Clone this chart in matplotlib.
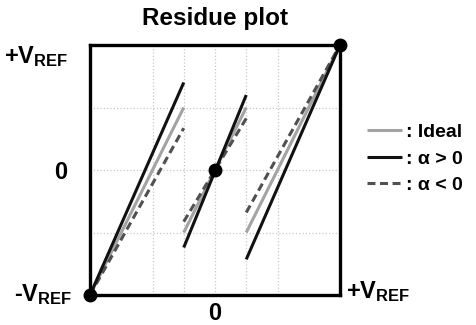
import matplotlib
matplotlib.use('Agg')
import matplotlib.pyplot as plt
from matplotlib.lines import Line2D

plt.rcParams['font.family'] = ['Liberation Sans', 'DejaVu Sans']
plt.rcParams['mathtext.fontset'] = 'custom'
plt.rcParams['mathtext.bf'] = 'Liberation Sans:bold'
plt.rcParams['mathtext.rm'] = 'Liberation Sans:bold'

# segments of the residue transfer curve: (x0, y0, x1, y1)
ideal_segs = [(-1.0, -1.0, -0.25, 0.5), (-0.25, -0.5, 0.25, 0.5), (0.25, -0.5, 1.0, 1.0)]
pos_segs = [(-1.0, -1.0, -0.25, 0.70), (-0.25, -0.62, 0.25, 0.60), (0.25, -0.715, 1.0, 1.0)]
neg_segs = [(-1.0, -1.0, -0.25, 0.335), (-0.25, -0.413, 0.25, 0.413), (0.25, -0.34, 1.0, 1.0)]
dots_x = [-1, 0, 1]
dots_y = [-1, 0, 1]
grid_x = [-0.5, -0.25, 0, 0.25, 0.5]
grid_y = [-0.5, 0, 0.5]
legend_labels = [': Ideal', ': α > 0', ': α < 0']

fig = plt.figure(figsize=(4.76, 3.25), dpi=100)
ax = fig.add_axes([90 / 476, 30 / 325, 250 / 476, 250 / 325])

ideal_style = dict(color='#a3a3a3', lw=2.2, solid_capstyle='butt')
pos_style = dict(color='#111111', lw=2.2, solid_capstyle='butt')
neg_style = dict(color='#505050', lw=2.2, ls=(0, (2.6, 1.5)))

for s in ideal_segs:
    ax.plot([s[0], s[2]], [s[1], s[3]], **ideal_style)
for s in neg_segs:
    ax.plot([s[0], s[2]], [s[1], s[3]], **neg_style)
for s in pos_segs:
    ax.plot([s[0], s[2]], [s[1], s[3]], **pos_style)

ax.plot(dots_x, dots_y, 'o', color='black', ms=9, ls='none', clip_on=False, zorder=5)

ax.set_xlim(-1, 1)
ax.set_ylim(-1, 1)
ax.set_xticks(grid_x)
ax.set_yticks(grid_y)
ax.tick_params(length=0, labelbottom=False, labelleft=False)
ax.grid(True, color='#c8c8c8', ls=':', lw=0.9)
for sp in ax.spines.values():
    sp.set_linewidth(2.4)
    sp.set_color('black')

fig.text(215 / 476, 1 - 19 / 325, 'Residue plot', fontsize=17.5, fontweight='bold',
         ha='center', va='center')

vref_kw = dict(fontsize=17, fontweight='bold', va='center', ha='left')
fig.text(4 / 476, 1 - 57 / 325, r'+$\mathbf{V_{REF}}$', **vref_kw)
fig.text(14 / 476, 1 - 295 / 325, r'-$\mathbf{V_{REF}}$', **vref_kw)
fig.text(346 / 476, 1 - 292 / 325, r'+$\mathbf{V_{REF}}$', **vref_kw)
fig.text(61 / 476, 1 - 173 / 325, '0', fontsize=17, fontweight='bold', ha='center', va='center')
fig.text(215 / 476, 1 - 313 / 325, '0', fontsize=17, fontweight='bold', ha='center', va='center')

handles = [Line2D([], [], **ideal_style), Line2D([], [], **pos_style), Line2D([], [], **neg_style)]
ax.legend(handles, legend_labels, loc='center left', bbox_to_anchor=(1.0, 0.545),
          frameon=False, handlelength=1.8, handletextpad=0.2,
          labelspacing=0.45, borderaxespad=1.0,
          prop={'weight': 'bold', 'size': 14})

fig.savefig('out.png', dpi=100)
